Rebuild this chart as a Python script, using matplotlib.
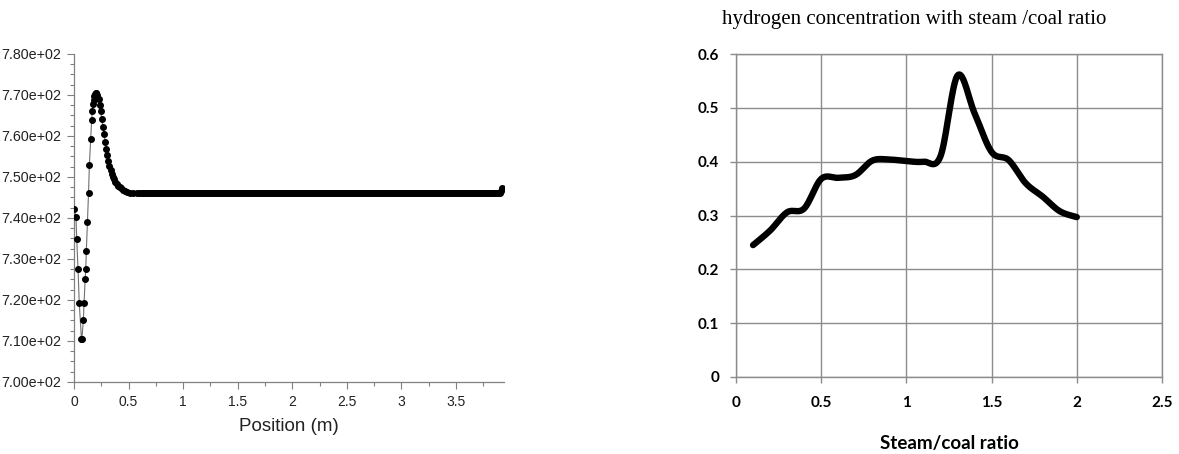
import numpy as np
import matplotlib
matplotlib.use('Agg')
import matplotlib.pyplot as plt
from matplotlib.ticker import MultipleLocator, FuncFormatter

# left panel: temperature profile along the reactor
pos_head = [0.000, 0.018, 0.025, 0.037, 0.048, 0.068, 0.072, 0.086, 0.092, 0.102,
            0.108, 0.113, 0.123, 0.133, 0.141, 0.153, 0.162, 0.168, 0.174, 0.180,
            0.186, 0.192, 0.198, 0.205, 0.215, 0.225, 0.235, 0.245, 0.255, 0.265,
            0.275, 0.285, 0.295, 0.305, 0.315, 0.325, 0.335, 0.345, 0.355, 0.365,
            0.378, 0.392, 0.406, 0.420, 0.435, 0.450, 0.470, 0.490, 0.515, 0.545,
            0.580]
temp_head = [742.2, 740.3, 734.8, 727.6, 719.3, 710.6, 710.4, 715.2, 719.2, 725.0,
             727.6, 732.0, 739.0, 746.0, 753.0, 759.3, 764.0, 766.0, 767.7, 768.9,
             769.7, 770.2, 770.5, 770.4, 770.0, 769.0, 767.6, 766.0, 764.2, 762.3,
             760.4, 758.6, 756.9, 755.3, 753.9, 752.7, 751.7, 750.8, 750.1, 749.5,
             748.9, 748.4, 747.9, 747.5, 747.2, 746.9, 746.6, 746.4, 746.2, 746.1,
             746.0]
# plateau: mesh nodes all sitting at ~746
pos_plateau = np.arange(0.60, 3.90, 0.015)
temp_plateau = np.full(len(pos_plateau), 746.0)
pos_end = [3.905, 3.915, 3.925]
temp_end = [746.2, 746.6, 747.2]

# right panel: hydrogen concentration vs steam/coal ratio
ratio = [0.1, 0.2, 0.3, 0.4, 0.5, 0.6, 0.7, 0.8, 0.9, 1.0,
         1.1, 1.2, 1.3, 1.4, 1.5, 1.6, 1.7, 1.8, 1.9, 2.0]
h2 = [0.245, 0.272, 0.306, 0.313, 0.368, 0.370, 0.375, 0.402, 0.404, 0.401,
      0.400, 0.410, 0.560, 0.490, 0.418, 0.403, 0.360, 0.335, 0.308, 0.297]


def smooth_line(xs, ys, n=30):
    # excel-like smoothed line (catmull-rom as bezier segments)
    xs = np.asarray(xs, float)
    ys = np.asarray(ys, float)
    px = np.concatenate([[xs[0]], xs, [xs[-1]]])
    py = np.concatenate([[ys[0]], ys, [ys[-1]]])
    outx, outy = [], []
    t = np.linspace(0, 1, n)
    for i in range(1, len(px) - 2):
        x0, x1, x2, x3 = px[i - 1], px[i], px[i + 1], px[i + 2]
        y0, y1, y2, y3 = py[i - 1], py[i], py[i + 1], py[i + 2]
        c1x, c1y = x1 + (x2 - x0) / 6, y1 + (y2 - y0) / 6
        c2x, c2y = x2 - (x3 - x1) / 6, y2 - (y3 - y1) / 6
        bx = (1 - t) ** 3 * x1 + 3 * (1 - t) ** 2 * t * c1x + 3 * (1 - t) * t ** 2 * c2x + t ** 3 * x2
        by = (1 - t) ** 3 * y1 + 3 * (1 - t) ** 2 * t * c1y + 3 * (1 - t) * t ** 2 * c2y + t ** 3 * y2
        outx.extend(bx)
        outy.extend(by)
    return np.array(outx), np.array(outy)


fig = plt.figure(figsize=(11.79, 4.54), dpi=100)

# ---- left
ax1 = fig.add_axes([74 / 1179, 72 / 454, 430 / 1179, 328 / 454])
pos = np.concatenate([pos_head, pos_plateau, pos_end])
temp = np.concatenate([temp_head, temp_plateau, temp_end])
ax1.plot(pos, temp, color='#707070', lw=0.8, zorder=2)
ax1.plot(pos, temp, ls='none', marker='o', ms=4.0, mfc='black', mec='black', zorder=3)
ax1.set_xlim(0, 3.94)
ax1.set_ylim(700, 780)
ax1.xaxis.set_minor_locator(MultipleLocator(0.25))
ax1.yaxis.set_major_locator(MultipleLocator(10))
ax1.yaxis.set_minor_locator(MultipleLocator(2.5))
ax1.set_xticks(np.arange(0, 3.6, 0.5))
ax1.set_xticklabels(['0', '0.5', '1', '1.5', '2', '2.5', '3', '3.5'])
ax1.yaxis.set_major_formatter(FuncFormatter(lambda v, p: '%.2fe+02' % (v / 100)))
for s in ['top', 'right']:
    ax1.spines[s].set_visible(False)
for s in ['left', 'bottom']:
    ax1.spines[s].set_color('#808080')
    ax1.spines[s].set_linewidth(0.9)
ax1.tick_params(which='major', length=5, width=0.8, color='#808080', direction='out',
                labelsize=10.3, pad=4, labelcolor='#222222')
ax1.tick_params(which='minor', length=3, width=0.8, color='#808080', direction='out')
ax1.tick_params(axis='x', pad=4, labelsize=10)
for lab in ax1.get_xticklabels() + ax1.get_yticklabels():
    lab.set_family('Liberation Sans')
ax1.set_xlabel('Position (m)', fontsize=13.5, family='Liberation Sans', labelpad=7,
               color='#222222')

# ---- right
ax2 = fig.add_axes([736 / 1179, 77 / 454, 426 / 1179, 323 / 454])
sx, sy = smooth_line(ratio, h2)
ax2.plot(sx, sy, color='black', lw=4.6, solid_capstyle='round', solid_joinstyle='round',
         zorder=3)
ax2.set_xlim(0, 2.5)
ax2.set_ylim(0, 0.6)
ax2.set_xticks([0, 0.5, 1, 1.5, 2, 2.5])
ax2.set_xticklabels(['0', '0.5', '1', '1.5', '2', '2.5'])
ax2.set_yticks([0, 0.1, 0.2, 0.3, 0.4, 0.5, 0.6])
ax2.set_yticklabels(['0', '0.1', '0.2', '0.3', '0.4', '0.5', '0.6'])
ax2.grid(True, color='#8c8c8c', lw=1.0)
ax2.set_axisbelow(True)
for s in ax2.spines.values():
    s.set_color('#8c8c8c')
    s.set_linewidth(1.0)
ax2.tick_params(length=4, width=1.0, color='#8c8c8c', direction='out', labelsize=11)
ax2.tick_params(axis='y', pad=8)
ax2.tick_params(axis='x', pad=10)
for lab in ax2.get_xticklabels() + ax2.get_yticklabels():
    lab.set_family('Lato')
    lab.set_fontweight('bold')
ax2.set_xlabel('Steam/coal ratio', fontsize=13.5, family='Lato', fontweight='bold',
               labelpad=18)
fig.text(722 / 1179, 1 - 24 / 454, 'hydrogen concentration with steam /coal ratio',
         family='Liberation Serif', fontsize=15, ha='left', va='baseline')

fig.savefig('out.png', dpi=100)
